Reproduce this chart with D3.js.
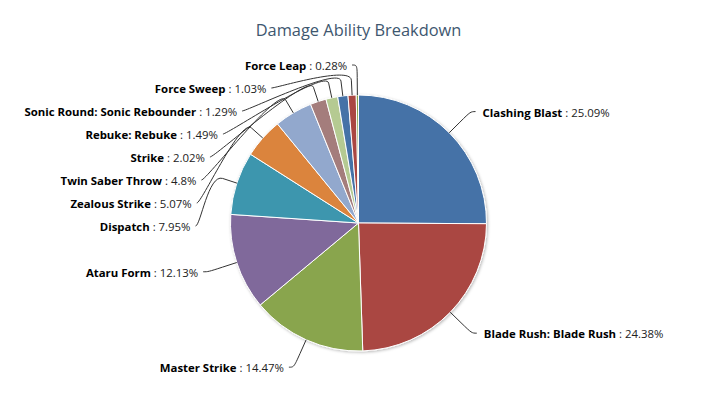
<!DOCTYPE html>
<html>
<head>
<meta charset="utf-8">
<script src="https://cdnjs.cloudflare.com/ajax/libs/d3/7.8.5/d3.min.js"></script>
<style>
	body { margin: 0; background: #fff; }
	svg { display: block; font-family: "Open Sans", sans-serif; }
</style>
</head>
<body>
<svg id="chart" width="715" height="407"></svg>
<script>
"use strict";

// chart data
var abilities = [
	"Clashing Blast", "Blade Rush: Blade Rush", "Master Strike", "Ataru Form",
	"Dispatch", "Zealous Strike", "Twin Saber Throw", "Strike", "Rebuke: Rebuke",
	"Sonic Round: Sonic Rebounder", "Force Sweep", "Force Leap"
];
var shares = [25.09, 24.38, 14.47, 12.13, 7.95, 5.07, 4.8, 2.02, 1.49, 1.29, 1.03, 0.28];
var palette = ["#4572A7", "#AA4643", "#89A54E", "#80699B", "#3D96AE",
	"#DB843D", "#92A8CD", "#A47D7C", "#B5CA92"];
var chartTitle = "Damage Ability Breakdown";

(function() {
	var svg = d3.select("#chart");
	var width = 715;

	var cx = 358.5, cy = 223, radius = 128;
	var distance = 30;           // label distance outside the pie
	var connectorOffset = 15;    // break point of the connector
	var slotHeight = 23;         // minimum vertical space between labels

	var color = d3.scaleOrdinal().domain(d3.range(shares.length)).range(palette);

	// title
	svg.append("text")
		.attr("x", width / 2 + 1)
		.attr("y", 36)
		.attr("text-anchor", "middle")
		.style("font-size", "16.4px")
		.style("fill", "#3E576F")
		.text(chartTitle);

	// soft shadow under the pie
	var defs = svg.append("defs");
	var shadow = defs.append("filter").attr("id", "pieShadow")
		.attr("x", "-10%").attr("y", "-10%").attr("width", "120%").attr("height", "120%");
	shadow.append("feDropShadow")
		.attr("dx", 1).attr("dy", 1).attr("stdDeviation", 1.6)
		.attr("flood-color", "#000").attr("flood-opacity", 0.28);

	var pie = d3.pie().sort(null).value(function(d) { return d; });
	var arcs = pie(shares);
	var arc = d3.arc().innerRadius(0).outerRadius(radius);

	var g = svg.append("g").attr("transform", "translate(" + cx + "," + cy + ")");

	g.append("g")
		.attr("filter", "url(#pieShadow)")
		.selectAll("path")
		.data(arcs)
		.enter().append("path")
		.attr("d", arc)
		.attr("fill", function(d) { return color(d.index); })
		.attr("stroke", "#fff")
		.attr("stroke-width", 1)
		.attr("stroke-linejoin", "round");

	// label positions: natural spot on the outer ring, then pushed apart per side
	var R = radius + distance;
	var labels = arcs.map(function(d) {
		var mid = (d.startAngle + d.endAngle) / 2;
		var sx = Math.sin(mid), sy = -Math.cos(mid);
		return {
			index: d.index,
			right: sx >= 0,
			naturalY: sy * R,
			edge: [sx * radius, sy * radius],
			brk: [sx * (radius + connectorOffset), sy * (radius + connectorOffset)]
		};
	});

	[true, false].forEach(function(side) {
		var list = labels.filter(function(l) { return l.right === side; })
			.sort(function(a, b) { return a.naturalY - b.naturalY; });
		var prev = -Infinity;
		list.forEach(function(l) {
			l.y = Math.max(l.naturalY, prev + slotHeight);
			prev = l.y;
		});
	});

	labels.forEach(function(l) {
		var dy = Math.max(-R, Math.min(R, l.y));
		l.x = (l.right ? 1 : -1) * Math.sqrt(R * R - dy * dy);
	});

	// connectors
	g.append("g")
		.selectAll("path")
		.data(labels)
		.enter().append("path")
		.attr("fill", "none")
		.attr("stroke", "#333")
		.attr("stroke-width", 1)
		.attr("d", function(l) {
			var p = d3.path();
			p.moveTo(l.x + (l.right ? 5 : -5), l.y);
			p.bezierCurveTo(l.x, l.y,
				2 * l.brk[0] - l.edge[0], 2 * l.brk[1] - l.edge[1],
				l.brk[0], l.brk[1]);
			p.lineTo(l.edge[0], l.edge[1]);
			return p.toString();
		});

	// label texts
	var text = g.append("g")
		.selectAll("text")
		.data(labels)
		.enter().append("text")
		.attr("x", function(l) { return l.x + (l.right ? 12 : -10); })
		.attr("y", function(l) { return l.y + 5; })
		.attr("text-anchor", function(l) { return l.right ? "start" : "end"; })
		.style("font-size", "11.4px")
		.style("fill", "#000");

	text.append("tspan")
		.style("font-weight", "bold")
		.text(function(l) { return abilities[l.index]; });
	text.append("tspan")
		.style("fill", "#222")
		.text(function(l) { return " : " + shares[l.index] + "%"; });
}());
</script>
</body>
</html>
